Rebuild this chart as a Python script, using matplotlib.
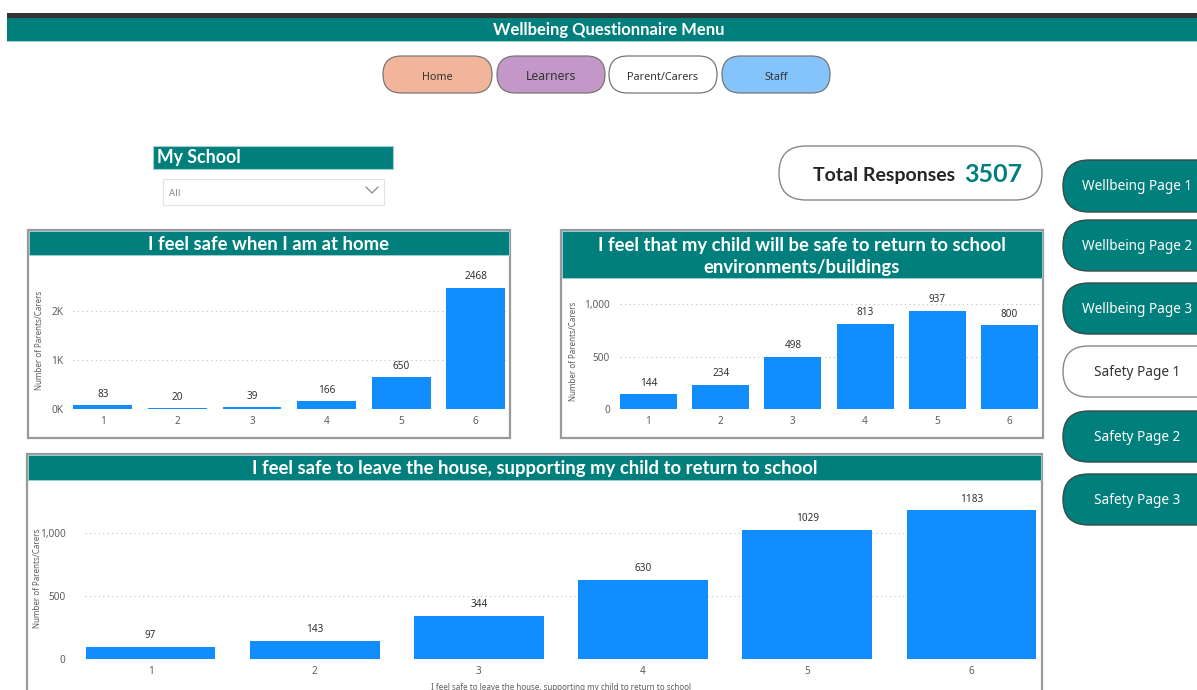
import matplotlib
matplotlib.use("Agg")
import matplotlib.pyplot as plt
from matplotlib.patches import FancyBboxPatch, Rectangle
from matplotlib.ticker import FuncFormatter

plt.rcParams['font.family'] = ['Noto Sans', 'DejaVu Sans']
BOLD = ['Lato', 'DejaVu Sans']

# data
categories = ['1', '2', '3', '4', '5', '6']
home_vals = [83, 20, 39, 166, 650, 2468]
school_vals = [144, 234, 498, 813, 937, 800]
leave_vals = [97, 143, 344, 630, 1029, 1183]
total_responses = 3507

menu_buttons = ['Home', 'Learners', 'Parent/Carers', 'Staff']
page_buttons = ['Wellbeing Page 1', 'Wellbeing Page 2', 'Wellbeing Page 3',
                'Safety Page 1', 'Safety Page 2', 'Safety Page 3']

TEAL = '#007f7c'
BLUE = '#118dff'
W, H = 1197, 690

fig = plt.figure(figsize=(W / 100, H / 100), dpi=100)
bg = fig.add_axes([0, 0, 1, 1], zorder=0)
bg.set_xlim(0, W)
bg.set_ylim(H, 0)
bg.axis('off')


def pill(x0, y0, x1, y1, fc, ec, lw=1.0):
    h = y1 - y0
    bg.add_patch(FancyBboxPatch((x0, y0), x1 - x0, h,
                                boxstyle=f"round,pad=0,rounding_size={h / 2}",
                                fc=fc, ec=ec, lw=lw))


# header
bg.add_patch(Rectangle((7, 12.5), W, 5, fc='#333333', ec='none'))
bg.add_patch(Rectangle((7, 17.5), W, 23.5, fc=TEAL, ec='none'))
bg.add_patch(Rectangle((7, 40.5), W, 1.5, fc='#9fcfcf', ec='none'))
bg.text(609, 30.5, 'Wellbeing Questionnaire Menu', color='white', fontsize=12,
        fontweight='bold', family=BOLD, ha='center', va='center')

# top menu buttons
menu_x = [(383, 492), (497, 605), (609, 717), (722, 830)]
menu_fc = ['#f2b49a', '#c397c8', 'white', '#85c4fb']
menu_fs = [7.8, 8.8, 7.8, 7.8]
for name, (x0, x1), fc, fs in zip(menu_buttons, menu_x, menu_fc, menu_fs):
    pill(x0, 56, x1, 93, fc, '#777777', 0.9)
    bg.text((x0 + x1) / 2, 77, name, fontsize=fs, color='#333333',
            ha='center', va='center')

# slicer
bg.add_patch(Rectangle((153, 146), 240, 23, fc=TEAL, ec='#9fcfcf', lw=0.8))
bg.text(157, 158, 'My School', color='white', fontsize=12.8, fontweight='bold',
        family=BOLD, ha='left', va='center')
bg.add_patch(Rectangle((162.5, 179), 221, 25.5, fc='white', ec='#e3e3e3', lw=0.8))
bg.text(169, 193, 'All', color='#888888', fontsize=7, ha='left', va='center')
bg.plot([366, 372, 378], [187, 193, 187], color='#888888', lw=0.9)

# total responses card
pill(779, 146, 1042, 200, 'white', '#888888', 1.0)
bg.text(955, 175, 'Total Responses', color='#252423', fontsize=14,
        fontweight='bold', family=BOLD, ha='right', va='center')
bg.text(964, 174, str(total_responses), color=TEAL, fontsize=18,
        fontweight='bold', family=BOLD, ha='left', va='center')

# side page buttons
page_y = [(160, 212), (220, 271), (283, 334), (346, 397), (411, 462), (474, 525)]
for name, (y0, y1) in zip(page_buttons, page_y):
    if name == 'Safety Page 1':
        pill(1063, y0, 1225, y1, 'white', '#888888', 1.0)
        tc = '#333333'
    else:
        pill(1063, y0, 1225, y1, TEAL, '#3a4a4a', 1.0)
        tc = 'white'
    bg.text(1137, (y0 + y1) / 2 + 1, name, color=tc, fontsize=9.8,
            ha='center', va='center')


def panel(x0, y0, x1, y1, title_h, title_lines, title_y):
    bg.add_patch(Rectangle((x0, y0), x1 - x0, y1 - y0, fc='white',
                           ec='#9a9a9a', lw=1.6))
    bg.add_patch(Rectangle((x0 + 1, y0 + 1), x1 - x0 - 2, title_h, fc=TEAL,
                           ec='#9fcfcf', lw=0.6))
    for line, ty in zip(title_lines, title_y):
        bg.text((x0 + x1) / 2, ty, line, color='white', fontsize=13.3,
                fontweight='bold', family=BOLD, ha='center', va='center')


def bar_chart(left, top, right, bottom, vals, ymax, ticks, fmt, pad, ylab_x, ylab_y):
    ax = fig.add_axes([left / W, 1 - bottom / H, (right - left) / W, (bottom - top) / H],
                      zorder=2)
    ax.patch.set_alpha(0)
    x = list(range(1, len(categories) + 1))
    bars = ax.bar(x, vals, width=0.79, color=BLUE, zorder=3)
    for b, v in zip(bars, vals):
        ax.annotate(str(v), (b.get_x() + b.get_width() / 2, v), xytext=(0, 8),
                    textcoords='offset points', ha='center', va='center',
                    fontsize=7.2, color='#333333')
    ax.set_xlim(0.6, 6.4)
    ax.set_ylim(0, ymax)
    ax.set_yticks(ticks)
    ax.yaxis.set_major_formatter(FuncFormatter(fmt))
    ax.set_xticks(x)
    ax.set_xticklabels(categories)
    ax.grid(axis='y', linestyle=(0, (1, 3)), color='#bdbdbd', lw=0.8, zorder=0)
    for s in ax.spines.values():
        s.set_visible(False)
    ax.tick_params(axis='both', length=0, labelsize=7.2, labelcolor='#605e5c')
    ax.tick_params(axis='y', pad=pad)
    ax.tick_params(axis='x', pad=5)
    bg.text(ylab_x, ylab_y, 'Number of Parents/Carers', rotation=90, fontsize=5.8,
            color='#605e5c', ha='center', va='center')
    return ax


k_fmt = lambda v, p: f'{int(v / 1000)}K'
c_fmt = lambda v, p: f'{int(v):,}'

# chart 1
panel(28, 230, 510, 438, 24, ['I feel safe when I am at home'], [245])
bar_chart(73, 270, 505.5, 409.3, home_vals, 2826, [0, 1000, 2000], k_fmt, 7, 40, 340)

# chart 2
panel(561, 230, 1043, 438, 47,
      ['I feel that my child will be safe to return to school',
       'environments/buildings'], [246, 268])
bar_chart(619.5, 290, 1038.5, 409.3, school_vals, 1136, [0, 500, 1000], c_fmt, 7, 573.5, 351)

# chart 3
panel(27, 454, 1042, 705, 25,
      ['I feel safe to leave the house, supporting my child to return to school'], [468.5])
bar_chart(85, 490, 1037, 659, leave_vals, 1344, [0, 500, 1000], c_fmt, 14, 37, 578)
bg.text(561, 687, 'I feel safe to leave the house, supporting my child to return to school',
        fontsize=5.8, color='#605e5c', ha='center', va='center')

fig.savefig('out.png', dpi=100)
